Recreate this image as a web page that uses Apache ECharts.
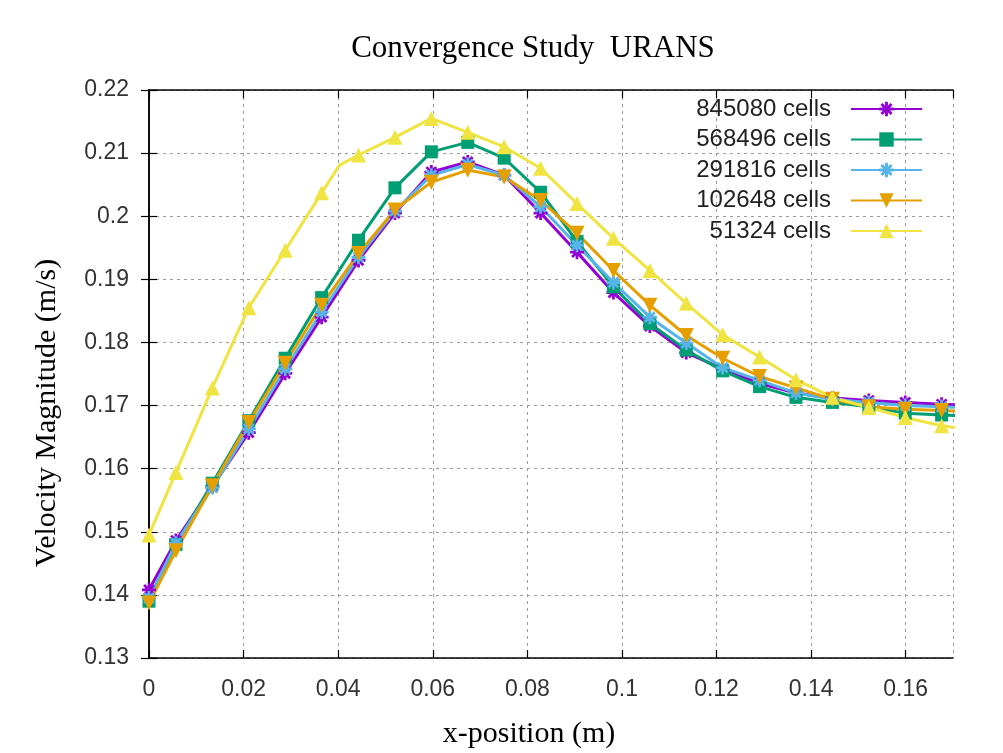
<!DOCTYPE html>
<html>
<head>
<meta charset="utf-8">
<script src="https://cdn.jsdelivr.net/npm/echarts@6/dist/echarts.min.js"></script>
<style>html,body{margin:0;padding:0;background:#fff}#c{width:1003px;height:753px}</style>
</head>
<body>
<div id="c"></div>
<script>
// ---- data ----
const titleText = 'Convergence Study  URANS';
const xName = 'x-position (m)';
const yName = 'Velocity Magnitude (m/s)';
const xTicks = [0, 0.02, 0.04, 0.06, 0.08, 0.1, 0.12, 0.14, 0.16];
const xMax = 0.17;
const yTicks = [0.13, 0.14, 0.15, 0.16, 0.17, 0.18, 0.19, 0.2, 0.21, 0.22];
const seriesNames = ['845080 cells', '568496 cells', '291816 cells', '102648 cells', '51324 cells'];
const xPos = [0, 0.0057, 0.0134, 0.0211, 0.0288, 0.0365, 0.0443, 0.052, 0.0597, 0.0674, 0.0751, 0.0828,
  0.0905, 0.0982, 0.1059, 0.1136, 0.1213, 0.1291, 0.1368, 0.1445, 0.1522, 0.1599, 0.1676, 0.1753];
const cells845080 = [0.1408, 0.1486, 0.1572, 0.1657, 0.1751, 0.184, 0.193, 0.2005, 0.207, 0.2086, 0.2065, 0.2005,
  0.1943, 0.1879, 0.1826, 0.1784, 0.1758, 0.1735, 0.172, 0.1712, 0.1708, 0.1705, 0.1702, 0.170];
const cells568496 = [0.139, 0.148, 0.1577, 0.1676, 0.1775, 0.1871, 0.1962, 0.2045, 0.2102, 0.2117, 0.2092, 0.2038,
  0.196, 0.1888, 0.183, 0.1788, 0.1755, 0.173, 0.1713, 0.1705, 0.1698, 0.1688, 0.1685, 0.1683];
const cells291816 = [0.1395, 0.1482, 0.157, 0.1663, 0.1758, 0.1848, 0.1935, 0.2008, 0.2065, 0.2082, 0.2065, 0.2015,
  0.1954, 0.1895, 0.184, 0.1799, 0.176, 0.174, 0.172, 0.171, 0.1705, 0.170, 0.1698, 0.1696];
const cells102648 = [0.1387, 0.147, 0.1573, 0.1673, 0.1767, 0.1859, 0.1941, 0.201, 0.2054, 0.2073, 0.2062, 0.2025,
  0.1973, 0.1914, 0.1859, 0.1811, 0.1775, 0.1746, 0.1728, 0.171, 0.1698, 0.1694, 0.1692, 0.169];
const cells51324 = [0.1495, 0.1594, 0.1728, 0.1855, 0.1946, 0.2037, 0.2097, 0.2125, 0.2155, 0.2133, 0.211, 0.2076,
  0.202, 0.1965, 0.1914, 0.1862, 0.1812, 0.1777, 0.1741, 0.1713, 0.1697, 0.1681, 0.1668, 0.166];
// unmarked bend in the 51324-cell curve (between 6th and 7th markers)
const bend51324 = [0.0403, 0.2081];

// ---- styles ----
const colors = ['#9400d3', '#009e73', '#56b4e9', '#e69f00', '#f0e442'];
const asterisk = 'path://M-2,-10L2,-10L2,10L-2,10Z M-10,-2L10,-2L10,2L-10,2Z ' +
  'M-5.6,-8.4L8.4,5.6L5.6,8.4L-8.4,-5.6Z M5.6,-8.4L8.4,-5.6L-5.6,8.4L-8.4,5.6Z';
const symbols = [asterisk, 'rect', asterisk, 'triangle', 'triangle'];
const symbolSizes = [14, 13, 14, 15, 15];
const symbolRot = [0, 0, 0, 180, 0];

function pairs(ys) { return xPos.map((x, i) => [x, ys[i]]); }
const allY = [cells845080, cells568496, cells291816, cells102648, cells51324];
const seriesData = allY.map(pairs);
// insert unmarked bend point for 51324 cells
seriesData[4].splice(6, 0, { value: bend51324, symbol: 'none' });

const step = a => +(a[1] - a[0]).toFixed(6);
const serif = '"Liberation Serif", "Times New Roman", serif';
const sans = '"Liberation Sans", Arial, sans-serif';

const chart = echarts.init(document.getElementById('c'), null, { renderer: 'canvas' });
const axisLineStyle = { lineStyle: { color: '#000', width: 1.5 } };
const tickStyle = { show: true, inside: true, length: 8, lineStyle: { color: '#000', width: 1.2 } };
const gridLine = { show: true, lineStyle: { color: '#9a9a9a', width: 1, type: [3, 4] } };

chart.setOption({
  animation: false,
  backgroundColor: '#fff',
  grid: { left: 149, right: 50, top: 90, bottom: 95, outerBoundsMode: 'none', containLabel: false },
  xAxis: [
    { type: 'value', min: xTicks[0], max: xMax, interval: step(xTicks),
      axisLine: axisLineStyle, axisTick: tickStyle, splitLine: gridLine,
      axisLabel: { margin: 20, fontFamily: sans, fontSize: 23, color: '#333', showMaxLabel: false } },
    { type: 'value', position: 'top', min: xTicks[0], max: xMax, interval: step(xTicks),
      axisLine: axisLineStyle, axisTick: tickStyle, splitLine: { show: false }, axisLabel: { show: false } }
  ],
  yAxis: [
    { type: 'value', min: yTicks[0], max: yTicks[yTicks.length - 1], interval: step(yTicks),
      axisLine: axisLineStyle, axisTick: tickStyle, splitLine: gridLine,
      axisLabel: { margin: 20, fontFamily: sans, fontSize: 23, color: '#333' } },
    { type: 'value', position: 'right', min: yTicks[0], max: yTicks[yTicks.length - 1], interval: step(yTicks),
      axisLine: axisLineStyle, axisTick: tickStyle, splitLine: { show: false }, axisLabel: { show: false } }
  ],
  legend: {
    orient: 'vertical', align: 'right', right: 80, top: 97, padding: 0,
    itemWidth: 71, itemHeight: 18, itemGap: 6.5,
    textStyle: { fontFamily: sans, fontSize: 24, color: '#222', lineHeight: 24, padding: [0, 15, 0, 0] },
    data: seriesNames
  },
  graphic: [
    { type: 'text', x: 533, y: 49, style: { text: titleText, font: '31px ' + serif, fill: '#000', textAlign: 'center', textVerticalAlign: 'middle' } },
    { type: 'text', x: 529, y: 734, style: { text: xName, font: '30px ' + serif, fill: '#000', textAlign: 'center', textVerticalAlign: 'middle' } },
    { type: 'text', x: 47, y: 413, rotation: Math.PI / 2, style: { text: yName, font: '30px ' + serif, fill: '#000', textAlign: 'center', textVerticalAlign: 'middle' } }
  ],
  series: seriesNames.map((n, i) => ({
    name: n, type: 'line', data: seriesData[i], clip: true,
    symbol: symbols[i], symbolSize: symbolSizes[i], symbolRotate: symbolRot[i], showAllSymbol: true,
    lineStyle: { color: colors[i], width: 3 },
    itemStyle: { color: colors[i] },
    emphasis: { disabled: true }
  }))
});
</script>
</body>
</html>
